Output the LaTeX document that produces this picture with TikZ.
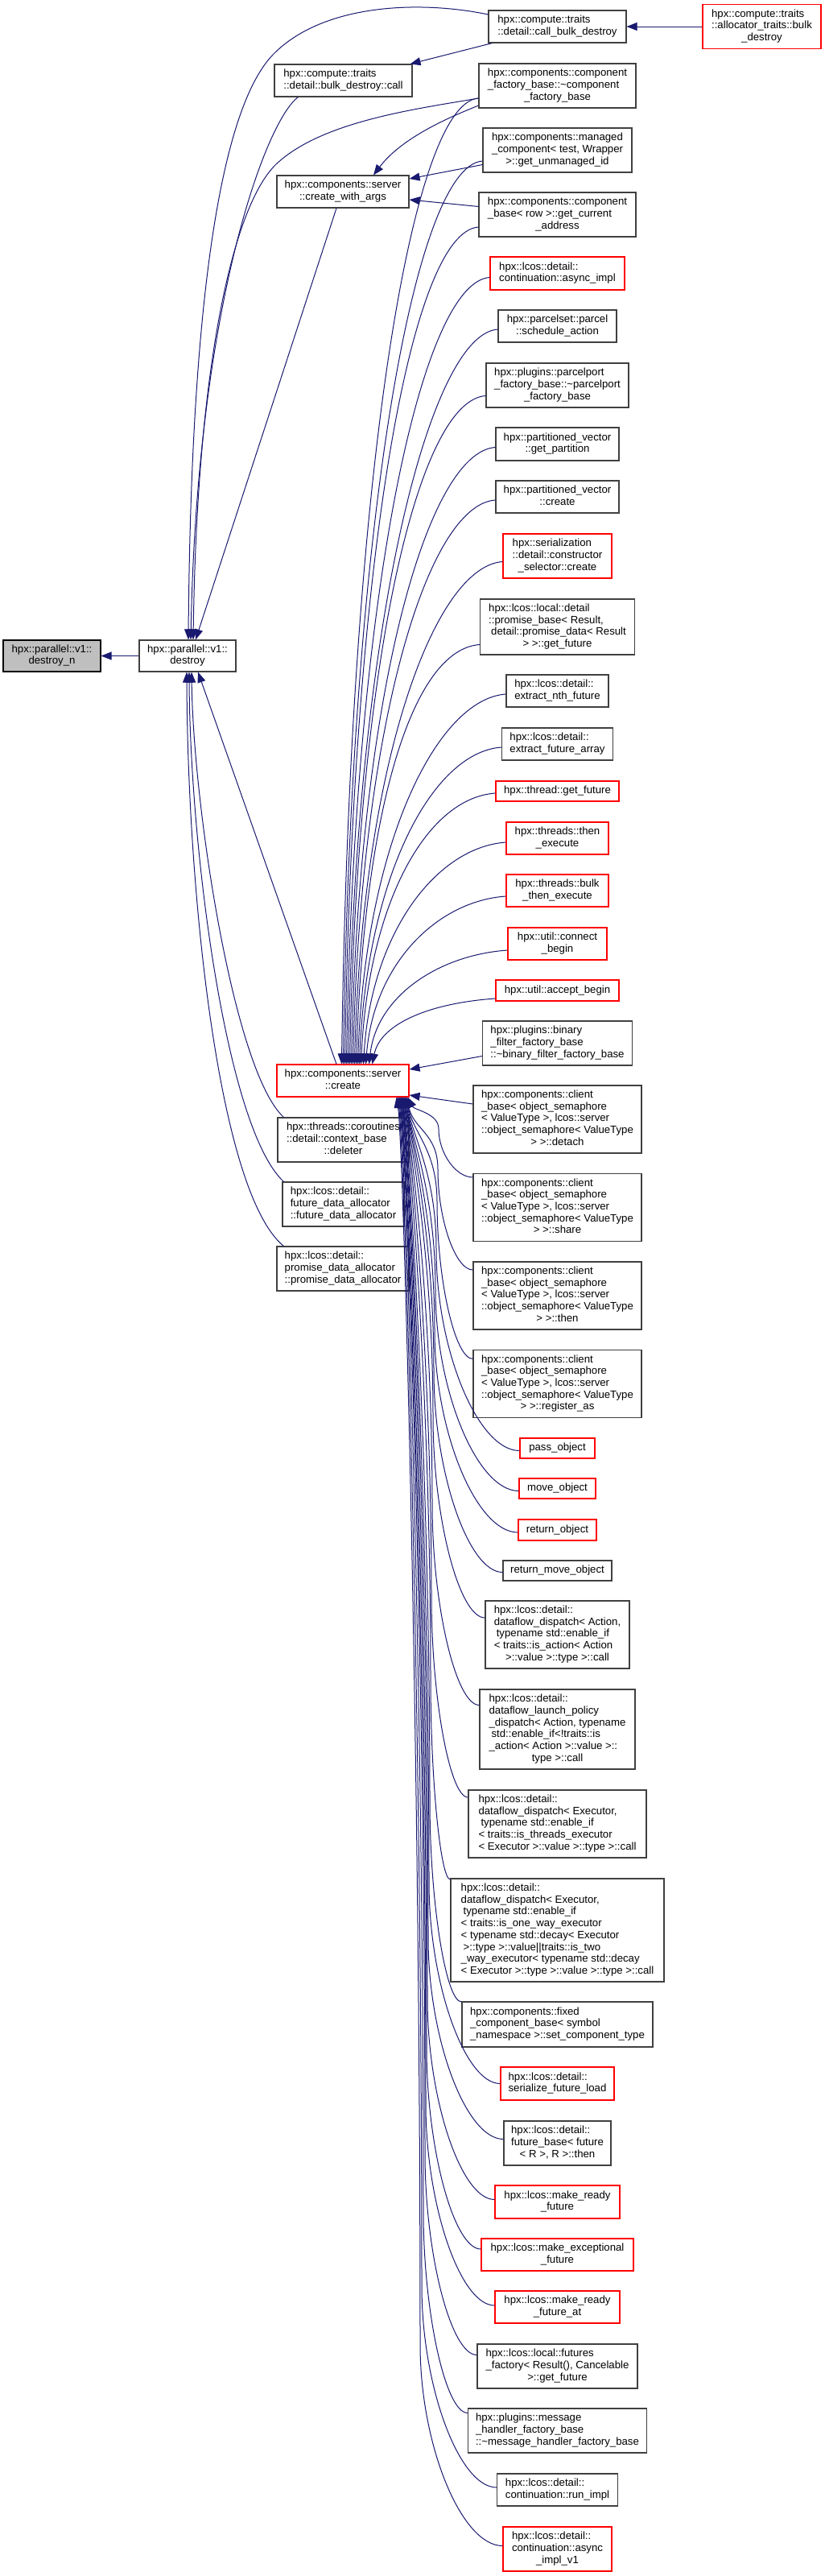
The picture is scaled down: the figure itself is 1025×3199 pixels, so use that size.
\documentclass[tikz,border=0pt]{standalone}
\usepackage{fontspec}
\setmainfont{Liberation Sans}
\usetikzlibrary{arrows.meta,calc}
\definecolor{edgec}{HTML}{191970}
\definecolor{boxc}{HTML}{404040}
\definecolor{redc}{HTML}{FF0000}
\definecolor{grayfill}{HTML}{BFBFBF}
\newcommand\ml[1]{\begin{tabular}{@{}l@{}}#1\end{tabular}}
\newcommand\cl[1]{\multicolumn{1}{@{}c@{}}{#1}}
\newcommand\tld{\textasciitilde}
\newcommand\topedge[3]{%
  \draw[calledge] let \p1=($(#1.west)+(0,#3)$), \p2=($(cr.north west)+(#2,0)$) in
  (\p1) .. controls ({\x1-85pt},{\y1-6pt}) and ({\x2+10pt},{\y1+0.4*(\y2-\y1)}) .. (\p2);}
\newcommand\botedge[6]{%
  \draw[calledge] let \p1=($(#1.west)+(0,#5)$), \p2=($(cr.south east)+(-#4,0)$) in
  (\p1) .. controls ({0.5*\x1+0.5*#2pt},\y1) and (#2pt,{\y1+0.5*#3pt}) .. (#2pt,{\y1+#3pt})
  .. controls (#2pt,{0.5*(\y1+#3pt)+0.5*\y2}) and ({\x2+8pt},{\y2-#6pt}) .. (\p2);}
\begin{document}
\begin{tikzpicture}[x=1pt,y=-1pt,
  font=\fontsize{13.2}{14.7}\selectfont,
  fn/.style={draw=boxc, line width=1.1pt, fill=white, inner sep=2pt},
  rfn/.style={fn, draw=redc},
  gfn/.style={fn, draw=black, fill=grayfill},
  wh/.style 2 args={minimum width=#1, minimum height=#2},
  calledge/.style={draw=edgec, line width=1pt, -{Triangle[length=13pt,width=10pt]}}]
\useasboundingbox (0,0) rectangle (1025,3199);
\fill[white] (0,0) rectangle (1025,3199);

% left part
\node[gfn, wh={121}{39}] (dn) at (64.5,814.5) {\ml{hpx::parallel::v1::\\\cl{destroy\_n}}};
\node[fn, wh={120}{39}] (ds) at (233,814.5) {\ml{hpx::parallel::v1::\\\cl{destroy}}};
\node[fn, wh={171}{40}] (bdc) at (426.5,100) {\ml{hpx::compute::traits\\\cl{::detail::bulk\_destroy::call}}};
\node[fn, wh={164}{40}] (cwa) at (426,238) {\ml{hpx::components::server\\\cl{::create\_with\_args}}};
\node[rfn, wh={164}{40}] (cr) at (426,1342) {\ml{hpx::components::server\\\cl{::create}}};
\node[fn, wh={163}{55}] (del) at (426.5,1415.5) {\ml{hpx::threads::coroutines\\::detail::context\_base\\\cl{::deleter}}};
\node[fn, wh={151}{55}] (fda) at (426.5,1495.5) {\ml{hpx::lcos::detail::\\future\_data\_allocator\\\cl{::future\_data\_allocator}}};
\node[fn, wh={164}{55}] (pda) at (426,1575.5) {\ml{hpx::lcos::detail::\\promise\_data\_allocator\\\cl{::promise\_data\_allocator}}};

% right column
\node[fn, wh={171}{40}] (cbd) at (692.5,33) {\ml{hpx::compute::traits\\\cl{::detail::call\_bulk\_destroy}}};
\node[rfn, wh={147}{55}] (atb) at (946.5,33) {\ml{hpx::compute::traits\\::allocator\_traits::bulk\\\cl{\_destroy}}};
\node[fn, wh={195}{55}] (cfb) at (692.5,106.5) {\ml{hpx::components::component\\\_factory\_base::\tld component\\\cl{\_factory\_base}}};
\node[fn, wh={185}{55}] (mc) at (692.5,186.5) {\ml{hpx::components::managed\\\_component< test, Wrapper\\\cl{>::get\_unmanaged\_id}}};
\node[fn, wh={195}{55}] (cbr) at (692.5,266.5) {\ml{hpx::components::component\\\_base< row >::get\_current\\\cl{\_address}}};
\node[rfn, wh={167}{41}] (ai) at (692.5,339.5) {\ml{hpx::lcos::detail::\\\cl{continuation::async\_impl}}};
\node[fn, wh={147}{40}] (sa) at (692.5,405) {\ml{hpx::parcelset::parcel\\\cl{::schedule\_action}}};
\node[fn, wh={177}{55}] (pfb) at (692.5,478.5) {\ml{hpx::plugins::parcelport\\\_factory\_base::\tld parcelport\\\cl{\_factory\_base}}};
\node[fn, wh={153}{41}] (gp) at (692.5,551.5) {\ml{hpx::partitioned\_vector\\\cl{::get\_partition}}};
\node[fn, wh={153}{40}] (pvc) at (692.5,617) {\ml{hpx::partitioned\_vector\\\cl{::create}}};
\node[rfn, wh={135}{55}] (cs) at (692.5,690.5) {\ml{hpx::serialization\\::detail::constructor\\\cl{\_selector::create}}};
\node[fn, wh={192}{69}] (pb) at (692.5,778.5) {\ml{hpx::lcos::local::detail\\::promise\_base< Result,\\\hspace{3pt}detail::promise\_data< Result\\\cl{> >::get\_future}}};
\node[fn, wh={127}{40}] (enf) at (692.5,858) {\ml{hpx::lcos::detail::\\\cl{extract\_nth\_future}}};
\node[fn, wh={138}{40}] (efa) at (692.5,924) {\ml{hpx::lcos::detail::\\\cl{extract\_future\_array}}};
\node[rfn, wh={153}{25}] (tgf) at (692.5,982.5) {hpx::thread::get\_future};
\node[rfn, wh={127}{40}] (te) at (692.5,1041) {\ml{hpx::threads::then\\\cl{\_execute}}};
\node[rfn, wh={127}{40}] (bte) at (692.5,1106) {\ml{hpx::threads::bulk\\\cl{\_then\_execute}}};
\node[rfn, wh={123}{40}] (cb) at (692.5,1172) {\ml{hpx::util::connect\\\cl{\_begin}}};
\node[rfn, wh={153}{26}] (ab) at (692.5,1230) {hpx::util::accept\_begin};
\node[fn, wh={186}{55}] (bff) at (692.5,1295.5) {\ml{hpx::plugins::binary\\\_filter\_factory\_base\\\cl{::\tld binary\_filter\_factory\_base}}};
\node[fn, wh={209}{84}] (det) at (692.5,1390) {\ml{hpx::components::client\\\_base< object\_semaphore\\< ValueType >, lcos::server\\::object\_semaphore< ValueType\\\cl{> >::detach}}};
\node[fn, wh={209}{84}] (shr) at (692.5,1499.5) {\ml{hpx::components::client\\\_base< object\_semaphore\\< ValueType >, lcos::server\\::object\_semaphore< ValueType\\\cl{> >::share}}};
\node[fn, wh={209}{84}] (thn) at (692.5,1609) {\ml{hpx::components::client\\\_base< object\_semaphore\\< ValueType >, lcos::server\\::object\_semaphore< ValueType\\\cl{> >::then}}};
\node[fn, wh={209}{84}] (reg) at (692.5,1718.5) {\ml{hpx::components::client\\\_base< object\_semaphore\\< ValueType >, lcos::server\\::object\_semaphore< ValueType\\\cl{> >::register\_as}}};
\node[rfn, wh={93}{25}] (pas) at (692.5,1798.5) {pass\_object};
\node[rfn, wh={95}{25}] (mov) at (692.5,1848.5) {move\_object};
\node[rfn, wh={97}{26}] (ret) at (692.5,1900) {return\_object};
\node[fn, wh={135}{25}] (rmo) at (692.5,1950.5) {return\_move\_object};
\node[fn, wh={179}{84}] (dda) at (692.5,2030) {\ml{hpx::lcos::detail::\\dataflow\_dispatch< Action,\\\hspace{3pt}typename std::enable\_if\\< traits::is\_action< Action\\\cl{>::value >::type >::call}}};
\node[fn, wh={193}{99}] (dlp) at (692.5,2147.5) {\ml{hpx::lcos::detail::\\dataflow\_launch\_policy\\\_dispatch< Action, typename\\\hspace{3pt}std::enable\_if<!traits::is\\\_action< Action >::value >::\\\cl{type >::call}}};
\node[fn, wh={221}{84}] (ddt) at (692.5,2265) {\ml{hpx::lcos::detail::\\dataflow\_dispatch< Executor,\\\hspace{3pt}typename std::enable\_if\\< traits::is\_threads\_executor\\\cl{< Executor >::value >::type >::call}}};
\node[fn, wh={265}{128}] (ddo) at (692.5,2397) {\ml{hpx::lcos::detail::\\dataflow\_dispatch< Executor,\\\hspace{3pt}typename std::enable\_if\\< traits::is\_one\_way\_executor\\< typename std::decay< Executor\\\hspace{3pt}>::type >::value||traits::is\_two\\\_way\_executor< typename std::decay\\\cl{< Executor >::type >::value >::type >::call}}};
\node[fn, wh={237}{56}] (fcb) at (692.5,2514) {\ml{hpx::components::fixed\\\_component\_base< symbol\\\cl{\_namespace >::set\_component\_type}}};
\node[rfn, wh={141}{41}] (sfl) at (692.5,2587.5) {\ml{hpx::lcos::detail::\\\cl{serialize\_future\_load}}};
\node[fn, wh={133}{55}] (fb) at (692.5,2661.5) {\ml{hpx::lcos::detail::\\future\_base< future\\\cl{< R >, R >::then}}};
\node[rfn, wh={155}{41}] (mrf) at (692.5,2734.5) {\ml{hpx::lcos::make\_ready\\\cl{\_future}}};
\node[rfn, wh={189}{40}] (mef) at (692.5,2800) {\ml{hpx::lcos::make\_exceptional\\\cl{\_future}}};
\node[rfn, wh={155}{40}] (mrfa) at (692.5,2865) {\ml{hpx::lcos::make\_ready\\\cl{\_future\_at}}};
\node[fn, wh={199}{55}] (ff) at (692.5,2938.5) {\ml{hpx::lcos::local::futures\\\_factory< Result(), Cancelable\\\cl{>::get\_future}}};
\node[fn, wh={222}{55}] (mh) at (692.5,3018.5) {\ml{hpx::plugins::message\\\_handler\_factory\_base\\\cl{::\tld message\_handler\_factory\_base}}};
\node[fn, wh={150}{40}] (ri) at (692.5,3092) {\ml{hpx::lcos::detail::\\\cl{continuation::run\_impl}}};
\node[rfn, wh={135}{55}] (aiv) at (692.5,3165.5) {\ml{hpx::lcos::detail::\\continuation::async\\\cl{\_impl\_v1}}};

% edges: left part
\draw[calledge] (ds.west) -- (dn.east);
\draw[calledge] (atb.west) -- (cbd.east);
\draw[calledge] ($(cbd.south west)+(5,0)$) -- ($(bdc.north east)+(-3,0)$);
\draw[calledge] ($(cbd.west)+(0,-15)$) .. controls (520,0) and (400,5) .. (339,68) .. controls (270,140) and (237,400) .. ($(ds.north)+(1,0)$);
\draw[calledge] ($(bdc.south west)+(30,0)$) .. controls (330,150) and (245,380) .. ($(ds.north)+(4,0)$);
\draw[calledge] ($(cfb.west)+(0,15.5)$) .. controls (520,135) and (400,150) .. (343,204) .. controls (290,255) and (245,450) .. ($(ds.north)+(7,0)$);
\draw[calledge] ($(cwa.south)+(-8,0)$) -- ($(ds.north)+(10,0)$);
\draw[calledge] ($(cfb.west)+(0,24.5)$) .. controls (560,145) and (500,170) .. ($(cwa.north)+(38,0)$);
\draw[calledge] ($(mc.west)+(0,18)$) -- ($(cwa.east)+(0,-16)$);
\draw[calledge] ($(cbr.west)+(0,-10)$) -- ($(cwa.east)+(0,10)$);
\draw[calledge] ($(cr.north)+(-8,0)$) -- ($(ds.south)+(13,0)$);
\draw[calledge] ($(del.north west)+(8,0)$) .. controls (290,1330) and (240,1000) .. ($(ds.south)+(5,0)$);
\draw[calledge] ($(fda.north west)+(2,0)$) .. controls (280,1400) and (236,1050) .. ($(ds.south)+(2,0)$);
\draw[calledge] ($(pda.north west)+(9,0)$) .. controls (270,1480) and (233,1100) .. ($(ds.south)+(-1,0)$);
\draw[calledge] ($(bff.west)+(0,16)$) -- ($(cr.east)+(0,-14)$);
\draw[calledge] ($(det.west)+(0,-19)$) -- ($(cr.east)+(0,18)$);

% edges into the top of create
\topedge{cfb}{81}{15.5}
\topedge{mc}{83}{13.5}
\topedge{cbr}{85}{15.5}
\topedge{ai}{87}{5}
\topedge{sa}{89}{4}
\topedge{pfb}{91}{13}
\topedge{gp}{93}{4}
\topedge{pvc}{95}{4}
\topedge{cs}{97}{7}
\topedge{pb}{99}{22}
\topedge{enf}{101}{4}
\topedge{efa}{103}{4}
\topedge{tgf}{105}{2.5}
\topedge{te}{108}{5}
\topedge{bte}{111}{7}
\topedge{cb}{115}{8}
\topedge{ab}{119}{10}

% edges into the bottom of create
\botedge{shr}{545}{60}{2}{-37.5}{16}
\botedge{thn}{544}{125}{3}{-32}{40}
\botedge{reg}{543}{195}{3.5}{-31}{45}
\botedge{pas}{542}{250}{4}{3}{50}
\botedge{mov}{541}{250}{5}{3}{50}
\botedge{ret}{540}{250}{5.5}{3}{50}
\botedge{rmo}{539}{250}{6}{2}{50}
\botedge{dda}{538}{250}{7}{-21}{50}
\botedge{dlp}{537}{250}{7.5}{-30}{50}
\botedge{ddt}{536}{250}{8}{-33}{50}
\botedge{ddo}{535}{250}{9}{-63}{50}
\botedge{fcb}{534}{250}{9.5}{-28}{50}
\botedge{sfl}{533}{250}{10}{0}{50}
\botedge{fb}{532}{250}{10.5}{-5}{50}
\botedge{mrf}{531}{250}{11}{-3}{50}
\botedge{mef}{530}{250}{12}{-7}{50}
\botedge{mrfa}{529}{250}{12.5}{-2}{50}
\botedge{ff}{528}{250}{13}{-14}{50}
\botedge{mh}{526}{250}{14}{-22}{50}
\botedge{ri}{524}{250}{15}{-3}{50}
\botedge{aiv}{522}{250}{16}{-4}{50}
\end{tikzpicture}
\end{document}
